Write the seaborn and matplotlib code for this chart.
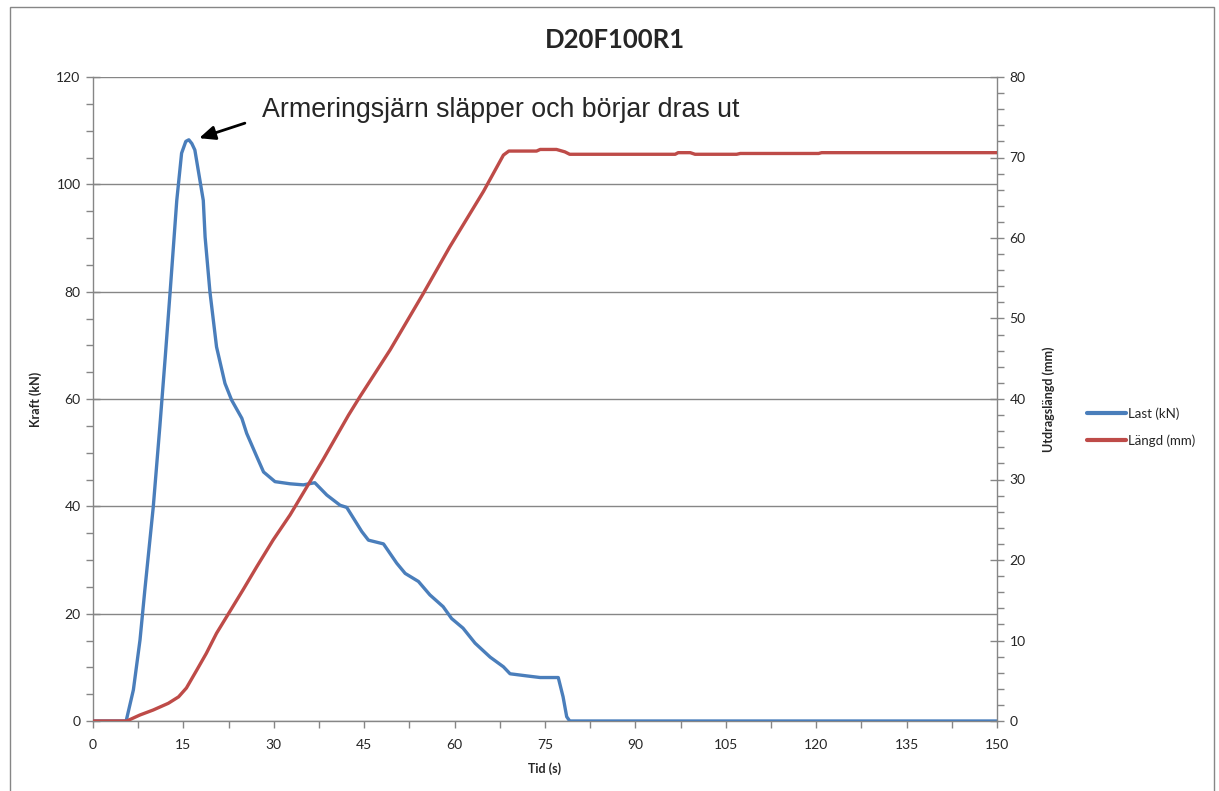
import matplotlib
matplotlib.use("Agg")
import matplotlib.pyplot as plt
from matplotlib.patches import Rectangle
from matplotlib.ticker import MultipleLocator
import numpy as np
import pandas as pd
import seaborn as sns

# Pull-out test D20F100R1: load (kN) and pull-out length (mm) versus time (s)
last_t = [0, 5.5, 6.7, 7.8, 8.6, 10.0, 11.1, 12.0, 12.8, 13.9, 14.7, 15.4, 15.9,
          16.4, 16.9, 18.3, 18.6, 19.4, 20.5, 21.9, 23.0, 24.7, 25.5, 27.2, 28.3,
          30.2, 32.7, 34.9, 36.8, 38.8, 41.0, 42.1, 44.6, 45.7, 48.2, 50.4, 51.8,
          54.0, 55.9, 58.1, 59.5, 61.4, 63.4, 65.9, 68.1, 69.2, 72.0, 74.2, 77.2,
          78.0, 78.6, 79.1, 150]
last_kn = [0, 0, 5.8, 15.1, 24.4, 39.9, 55.0, 68.0, 80.0, 97.0, 105.8, 108.0, 108.3,
           107.6, 106.4, 97.0, 90.2, 80.0, 69.7, 62.9, 59.8, 56.4, 53.6, 49.2, 46.4,
           44.6, 44.2, 44.0, 44.4, 42.1, 40.2, 39.8, 35.3, 33.7, 33.0, 29.4, 27.5,
           26.0, 23.5, 21.3, 19.1, 17.3, 14.5, 11.9, 10.1, 8.8, 8.4, 8.1, 8.1,
           4.5, 0.8, 0, 0]

langd_t = [0, 5.6, 7.8, 10.0, 12.5, 14.2, 15.5, 17.2, 18.8, 20.5, 22.7, 24.9, 27.2,
           29.9, 32.7, 35.5, 38.2, 42.4, 44.3, 49.3, 54.8, 59.2, 64.8, 68.1, 69.0,
           73.6, 74.2, 76.9, 78.3, 79.1, 96.6, 97.1, 99.1, 99.9, 106.8, 107.4,
           120.4, 120.9, 150]
langd_mm = [0, 0, 0.75, 1.37, 2.2, 3.0, 4.1, 6.3, 8.4, 10.9, 13.6, 16.3, 19.2,
            22.5, 25.6, 29.1, 32.5, 38.0, 40.3, 46.1, 53.1, 58.9, 65.8, 70.3, 70.8,
            70.8, 71.0, 71.0, 70.7, 70.4, 70.4, 70.6, 70.6, 70.4, 70.4, 70.5,
            70.5, 70.6, 70.6]

title = "D20F100R1"
x_label = "Tid (s)"
y_label = "Kraft (kN)"
y2_label = "Utdragslängd (mm)"
series_names = ["Last (kN)", "Längd (mm)"]
note = "Armeringsjärn släpper och börjar dras ut"

sns.set_theme(style="white")
plt.rcParams["font.family"] = ["Lato", "DejaVu Sans"]

BLUE = "#4A7EBB"
RED = "#BE4B48"
GRID = "#868686"

fig = plt.figure(figsize=(12.19, 7.91), dpi=100)
fig.patch.set_facecolor("white")
fig.patches.append(Rectangle((10 / 1219, -0.05), 1204 / 1219, 1.05 - 7 / 791,
                             transform=fig.transFigure, fill=False,
                             edgecolor=GRID, linewidth=1.0))

ax = fig.add_axes([93 / 1219, 1 - 721 / 791, 904 / 1219, 644 / 791])
ax2 = ax.twinx()

df_last = pd.DataFrame({"t": last_t, "v": last_kn})
df_langd = pd.DataFrame({"t": langd_t, "v": langd_mm})

sns.lineplot(data=df_last, x="t", y="v", ax=ax, color=BLUE, linewidth=2.4,
             sort=False, estimator=None, legend=False, zorder=3)
sns.lineplot(data=df_langd, x="t", y="v", ax=ax2, color=RED, linewidth=2.4,
             sort=False, estimator=None, legend=False, zorder=3)

ax.set_xlim(0, 150)
ax.set_ylim(0, 120)
ax2.set_ylim(0, 80)
ax.xaxis.set_major_locator(MultipleLocator(15))
ax.xaxis.set_minor_locator(MultipleLocator(7.5))
ax.yaxis.set_major_locator(MultipleLocator(20))
ax.yaxis.set_minor_locator(MultipleLocator(5))
ax2.yaxis.set_major_locator(MultipleLocator(10))
ax2.yaxis.set_minor_locator(MultipleLocator(2))

ax.grid(axis="y", which="major", color=GRID, linewidth=1.0)
ax.set_axisbelow(True)
ax.set_facecolor("none")

for a in (ax, ax2):
    a.spines["top"].set_visible(False)
    for side in ("left", "right", "bottom"):
        a.spines[side].set_color(GRID)
        a.spines[side].set_linewidth(1.0)
ax2.spines["left"].set_visible(False)
ax2.spines["bottom"].set_visible(False)
ax.spines["right"].set_visible(False)

ax.tick_params(axis="x", which="both", direction="out", length=5, width=1,
               color=GRID, labelsize=10, pad=8, bottom=True)
ax.tick_params(axis="y", which="major", direction="inout", length=10, width=1,
               color=GRID, labelsize=10, pad=4, left=True)
ax.tick_params(axis="y", which="minor", direction="out", length=5, width=1,
               color=GRID, left=True)
ax2.tick_params(axis="y", which="major", direction="inout", length=10, width=1,
                color=GRID, labelsize=10, pad=4, right=True)
ax2.tick_params(axis="y", which="minor", direction="out", length=5, width=1,
                color=GRID, right=True)

ax.set_xlabel(x_label, fontsize=9, fontweight="bold", labelpad=8)
ax.set_ylabel(y_label, fontsize=9, fontweight="bold", labelpad=10)
ax2.set_ylabel(y2_label, fontsize=9, fontweight="bold", labelpad=12)

fig.text(615 / 1219, 1 - 40 / 791, title, ha="center", va="center",
         fontsize=18.5, fontweight="bold")

# annotation for the peak load
ax.text(28.0, 113.8, note, ha="left", va="center", fontsize=19.3,
        family=["Liberation Sans", "DejaVu Sans"])
ax.annotate("", xy=(17.6, 108.6), xytext=(25.2, 111.4),
            arrowprops=dict(arrowstyle="-|>,head_length=0.8,head_width=0.35",
                            color="black", lw=2.0, shrinkA=0, shrinkB=0))

handles = [plt.Line2D([], [], color=BLUE, linewidth=3),
           plt.Line2D([], [], color=RED, linewidth=3)]
fig.legend(handles, series_names, loc="center left",
           bbox_to_anchor=(1080 / 1219, 1 - 427 / 791), frameon=False,
           fontsize=9.5, handlelength=3.0, handletextpad=0.1, labelspacing=1.1,
           borderpad=0)

fig.savefig("out.png", dpi=100, facecolor="white")
